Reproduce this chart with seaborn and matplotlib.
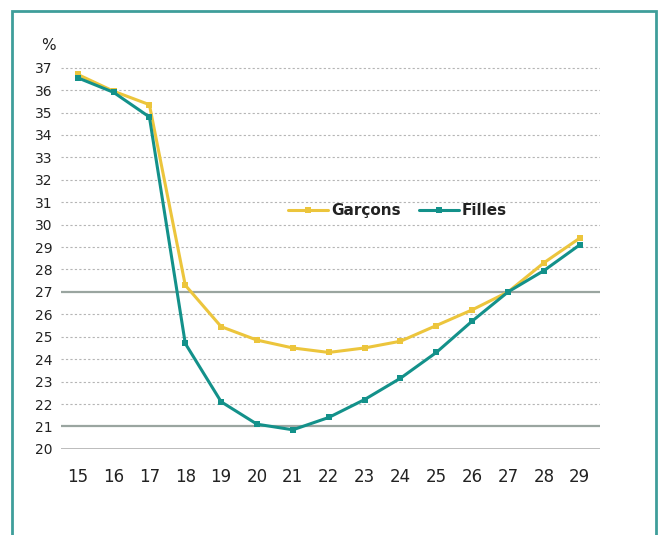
import numpy as np
import pandas as pd
import matplotlib
matplotlib.use("Agg")
import matplotlib.pyplot as plt
import seaborn as sns
from matplotlib.patches import Rectangle

ages = [15, 16, 17, 18, 19, 20, 21, 22, 23, 24, 25, 26, 27, 28, 29]
garcons = [36.7, 35.95, 35.35, 27.3, 25.45, 24.85, 24.5, 24.3, 24.5, 24.8, 25.5, 26.2, 27.0, 28.3, 29.4]
filles = [36.55, 35.9, 34.8, 24.7, 22.1, 21.1, 20.85, 21.4, 22.2, 23.15, 24.3, 25.7, 27.0, 27.95, 29.1]
yticks = list(range(20, 38))

data = pd.DataFrame({
    "age": ages * 2,
    "val": garcons + filles,
    "serie": ["Garçons"] * len(ages) + ["Filles"] * len(ages),
})

sns.set_style("white")
plt.rcParams["font.family"] = ["DejaVu Sans"]

fig = plt.figure(figsize=(6.61, 5.35), dpi=100)
ax = fig.add_axes([0.092, 0.161, 0.815, 0.723])

# grille pointillée + lignes pleines a 21 et 27
for y in yticks:
    if y in (21, 27):
        ax.axhline(y, color="#9aa5a0", lw=1.6, zorder=1)
    elif y == 20:
        ax.axhline(y, color="#b0b0b0", lw=1.2, zorder=1)
    else:
        ax.axhline(y, color="#b5b5b5", lw=0.8, ls=(0, (2, 2)), zorder=1)

palette = {"Garçons": "#ecc53c", "Filles": "#13918a"}
sns.lineplot(data=data, x="age", y="val", hue="serie", palette=palette,
             marker="s", markersize=4, markeredgewidth=0, linewidth=2.2,
             ax=ax, zorder=3)

ax.set_xlim(14.53, 29.55)
ax.set_ylim(20, 37.25)
ax.set_xticks(ages)
ax.set_xticklabels([str(a) for a in ages], fontsize=12, color="#222222")
ax.set_yticks(yticks)
ax.set_yticklabels([str(y) for y in yticks], fontsize=10, color="#222222")
ax.tick_params(length=0, pad=6)
ax.tick_params(axis="x", pad=14)
ax.set_xlabel("")
ax.set_ylabel("")
for s in ax.spines.values():
    s.set_visible(False)

leg = ax.legend(title=None, frameon=False, ncol=2, loc="center",
                bbox_to_anchor=(0.625, 0.615), fontsize=11, handlelength=2.6,
                columnspacing=1.2, handletextpad=0.2)
for t in leg.get_texts():
    t.set_fontweight("semibold")
    t.set_color("#222222")

fig.text(0.062, 0.915, "%", fontsize=11, color="#222222", ha="left", va="center")

fig.patches.append(Rectangle((0.018, -0.05), 0.974, 1.03, transform=fig.transFigure,
                             fill=False, edgecolor="#3f9e9a", lw=2))

fig.savefig("out.png", dpi=100)
